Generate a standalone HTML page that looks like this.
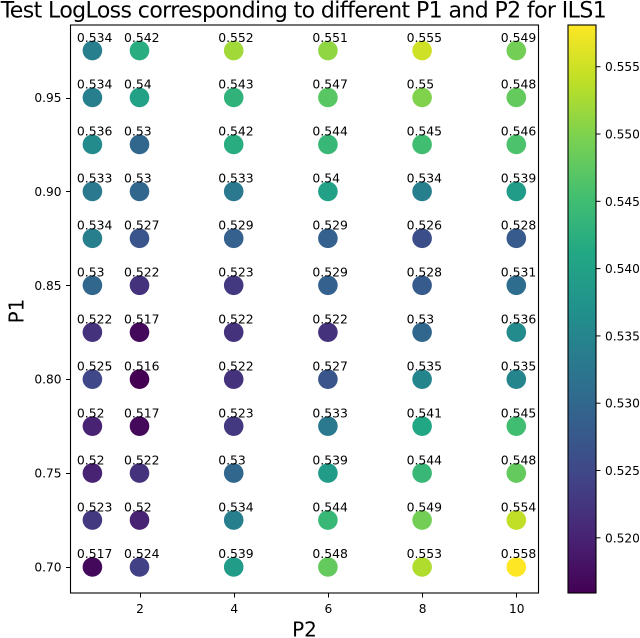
<!DOCTYPE html>
<html>
<head>
<meta charset="utf-8">
<style>
html,body{margin:0;padding:0;background:#fff;width:640px;height:638px;overflow:hidden}
svg{display:block;filter:blur(0.35px)}
text{font-family:"DejaVu Sans","Liberation Sans",sans-serif;fill:#000}
</style>
</head>
<body>
<svg id="chart" width="640" height="638" viewBox="0 0 640 638" xmlns="http://www.w3.org/2000/svg">
<defs><linearGradient id="cbgrad" x1="0" y1="1" x2="0" y2="0"></linearGradient></defs>
<text x="0.7" y="17.5" font-size="22" textLength="606" lengthAdjust="spacing">Test LogLoss corresponding to different P1 and P2 for ILS1</text>
<text x="304.5" y="636.5" font-size="20" text-anchor="middle">P2</text>
<text transform="translate(23.5 311) rotate(-90)" font-size="20" text-anchor="middle">P1</text>
</svg>
<script>
const p2Values = [1, 2, 4, 6, 8, 10];
const p1Values = [0.975, 0.95, 0.925, 0.9, 0.875, 0.85, 0.825, 0.8, 0.775, 0.75, 0.725, 0.7];
const lossRow975 = [0.534, 0.542, 0.552, 0.551, 0.555, 0.549];
const lossRow950 = [0.534, 0.54, 0.543, 0.547, 0.55, 0.548];
const lossRow925 = [0.536, 0.53, 0.542, 0.544, 0.545, 0.546];
const lossRow900 = [0.533, 0.53, 0.533, 0.54, 0.534, 0.539];
const lossRow875 = [0.534, 0.527, 0.529, 0.529, 0.526, 0.528];
const lossRow850 = [0.53, 0.522, 0.523, 0.529, 0.528, 0.531];
const lossRow825 = [0.522, 0.517, 0.522, 0.522, 0.53, 0.536];
const lossRow800 = [0.525, 0.516, 0.522, 0.527, 0.535, 0.535];
const lossRow775 = [0.52, 0.517, 0.523, 0.533, 0.541, 0.545];
const lossRow750 = [0.52, 0.522, 0.53, 0.539, 0.544, 0.548];
const lossRow725 = [0.523, 0.52, 0.534, 0.544, 0.549, 0.554];
const lossRow700 = [0.517, 0.524, 0.539, 0.548, 0.553, 0.558];
const lossRows = [lossRow975, lossRow950, lossRow925, lossRow900, lossRow875, lossRow850, lossRow825, lossRow800, lossRow775, lossRow750, lossRow725, lossRow700];
const xTicks = [2, 4, 6, 8, 10];
const yTicks = ['0.70', '0.75', '0.80', '0.85', '0.90', '0.95'];
const colorbarTicks = ['0.520', '0.525', '0.530', '0.535', '0.540', '0.545', '0.550', '0.555'];
const viridis = ['#440154','#482475','#414487','#355f8d','#2a788e','#21918c','#22a884','#44bf70','#7ad151','#bddf26','#fde725'];

const svg = document.getElementById('chart');
const NS = 'http://www.w3.org/2000/svg';
const plot = {left: 70.5, right: 538.5, top: 25, bottom: 593};
const bar = {left: 568, right: 596};
const xScale = v => 139.5 + (v - 2) * 47.1;
const yScale = v => 567 - (v - 0.7) * 1878;
const vMin = 0.516;
const vMax = 0.558;
const barScale = v => plot.bottom - (v - 0.5159) / (0.5581 - 0.5159) * (plot.bottom - plot.top);

function hexToRgb(h) {
  return [parseInt(h.slice(1, 3), 16), parseInt(h.slice(3, 5), 16), parseInt(h.slice(5, 7), 16)];
}
function colorFor(v) {
  const t = Math.max(0, Math.min(1, (v - vMin) / (vMax - vMin))) * (viridis.length - 1);
  const i = Math.min(Math.floor(t), viridis.length - 2);
  const a = hexToRgb(viridis[i]);
  const b = hexToRgb(viridis[i + 1]);
  const f = t - i;
  return 'rgb(' + a.map((c, k) => Math.round(c + (b[k] - c) * f)).join(',') + ')';
}
function make(tag, attrs, text) {
  const el = document.createElementNS(NS, tag);
  for (const k in attrs) el.setAttribute(k, attrs[k]);
  if (text !== undefined) el.textContent = text;
  svg.appendChild(el);
  return el;
}

const grad = document.getElementById('cbgrad');
viridis.forEach((c, i) => {
  const stop = document.createElementNS(NS, 'stop');
  stop.setAttribute('offset', (i / (viridis.length - 1) * 100) + '%');
  stop.setAttribute('stop-color', c);
  grad.appendChild(stop);
});

p1Values.forEach((p1, r) => {
  p2Values.forEach((p2, c) => {
    const point = make('circle', {cx: xScale(p2), cy: yScale(p1), r: 9.8, fill: colorFor(lossRows[r][c])});
    
    
  });
});
p1Values.forEach((p1, r) => {
  p2Values.forEach((p2, c) => {
    const label = make('text', {x: xScale(p2) - 15.5, y: yScale(p1) - 8.8, 'font-size': 12.4}, String(lossRows[r][c]));
    
    
  });
});

const frame = make('rect', {x: plot.left, y: plot.top, width: plot.right - plot.left, height: plot.bottom - plot.top, fill: 'none', stroke: '#000', 'stroke-width': 1.1});



xTicks.forEach(t => {
  const x = Math.round(xScale(t)) + 0.5;
  const mark = make('line', {x1: x, x2: x, y1: plot.bottom, y2: plot.bottom + 4.5, stroke: '#000', 'stroke-width': 1});
  
  
  const label = make('text', {x: xScale(t) + 0.5, y: 613, 'font-size': 12.2, 'text-anchor': 'middle'}, String(t));
  
  
});
yTicks.forEach(t => {
  const y = Math.round(yScale(Number(t))) + 0.5;
  const mark = make('line', {x1: plot.left - 4.5, x2: plot.left, y1: y, y2: y, stroke: '#000', 'stroke-width': 1});
  
  
  const label = make('text', {x: 61.5, y: yScale(Number(t)) + 4.5, 'font-size': 12.2, 'text-anchor': 'end'}, t);
  
  
});

const colorbar = make('rect', {x: bar.left, y: plot.top, width: bar.right - bar.left, height: plot.bottom - plot.top, fill: 'url(#cbgrad)', stroke: '#000', 'stroke-width': 1.1});


colorbarTicks.forEach(t => {
  const y = barScale(Number(t));
  const mark = make('line', {x1: bar.right, x2: bar.right + 4.5, y1: y, y2: y, stroke: '#000', 'stroke-width': 1});
  
  
  const label = make('text', {x: 605, y: y + 4.5, 'font-size': 12.2}, t);
  
  
});
</script>
</body>
</html>
